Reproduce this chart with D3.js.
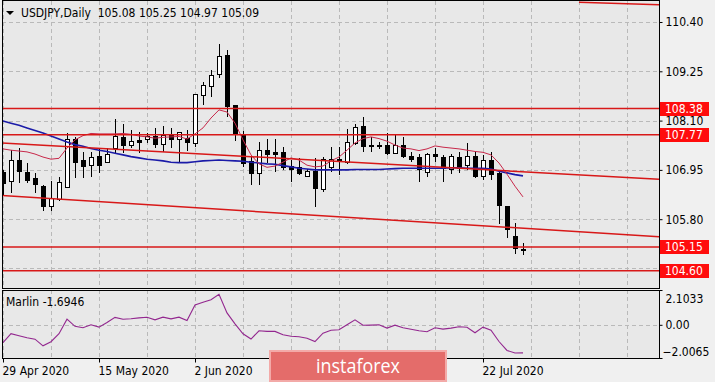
<!DOCTYPE html>
<html>
<head>
<meta charset="utf-8">
<script src="https://cdn.jsdelivr.net/npm/d3@7"></script>
<style>
  html, body { margin: 0; padding: 0; background: #f0f0f0; }
  svg { display: block; font-family: "DejaVu Sans Condensed", "DejaVu Sans", sans-serif; }
</style>
</head>
<body>
<svg id="chart" width="715" height="382"></svg>
<script>
// daily bars, 29 Apr 2020 .. 29 Jul 2020
const dates = [
  '2020-04-29','2020-04-30',
  '2020-05-01','2020-05-04','2020-05-05','2020-05-06','2020-05-07','2020-05-08',
  '2020-05-11','2020-05-12','2020-05-13','2020-05-14','2020-05-15',
  '2020-05-18','2020-05-19','2020-05-20','2020-05-21','2020-05-22',
  '2020-05-25','2020-05-26','2020-05-27','2020-05-28','2020-05-29',
  '2020-06-01','2020-06-02','2020-06-03','2020-06-04','2020-06-05',
  '2020-06-08','2020-06-09','2020-06-10','2020-06-11','2020-06-12',
  '2020-06-15','2020-06-16','2020-06-17','2020-06-18','2020-06-19',
  '2020-06-22','2020-06-23','2020-06-24','2020-06-25','2020-06-26',
  '2020-06-29','2020-06-30','2020-07-01','2020-07-02','2020-07-03',
  '2020-07-06','2020-07-07','2020-07-08','2020-07-09','2020-07-10',
  '2020-07-13','2020-07-14','2020-07-15','2020-07-16','2020-07-17',
  '2020-07-20','2020-07-21','2020-07-22','2020-07-23','2020-07-24',
  '2020-07-27','2020-07-28','2020-07-29'
];

const open = [
  106.88,106.67,107.18,106.88,106.75,106.57,106.09,106.26,106.54,107.66,
  107.16,107.05,107.27,107.12,107.45,107.71,107.51,107.63,107.65,107.72,
  107.55,107.76,107.67,107.68,107.57,108.68,108.89,109.18,109.61,108.46,
  107.77,107.14,106.87,107.40,107.35,107.35,107.02,107.01,106.79,106.91,
  106.50,107.01,107.20,107.12,107.57,107.96,107.52,107.50,107.51,107.34,
  107.53,107.27,107.23,106.89,107.31,107.24,106.95,107.24,107.05,107.26,
  106.79,107.16,106.87,106.09,105.39,105.08
];
const high = [
  106.95,107.41,107.45,107.10,106.87,106.60,106.70,106.78,107.80,107.72,
  107.37,107.37,107.45,107.45,108.13,108.02,107.88,107.84,107.80,107.93,
  107.98,107.92,107.84,107.88,108.72,109.01,109.28,109.88,109.75,108.46,
  107.85,107.26,107.59,107.66,107.66,107.48,107.18,107.22,106.96,107.22,
  107.26,107.48,107.49,107.90,108.02,108.19,107.72,107.61,107.80,107.78,
  107.72,107.37,107.31,107.34,107.45,107.30,107.31,107.36,107.57,107.36,
  107.30,107.36,106.90,106.09,105.70,105.25
];
const low = [
  106.36,106.42,106.64,106.64,106.42,106.00,106.00,106.23,106.54,106.75,
  106.75,106.79,106.87,107.10,107.34,107.35,107.45,107.34,107.57,107.45,
  107.37,107.45,107.10,107.39,107.49,108.46,108.66,109.09,108.19,107.62,
  107.02,106.60,106.60,107.10,106.91,106.95,106.67,106.83,106.79,106.09,
  106.44,106.91,106.83,107.09,107.53,107.37,107.37,107.43,107.30,107.31,
  107.22,107.14,106.66,106.79,107.14,106.67,106.85,106.87,106.95,106.75,
  106.71,106.71,105.68,105.35,104.98,104.97
];
const close = [
  106.64,107.18,106.91,106.71,106.60,106.09,106.29,106.65,107.65,107.12,
  107.02,107.24,107.06,107.32,107.72,107.53,107.61,107.60,107.72,107.55,
  107.76,107.67,107.82,107.59,108.70,108.93,109.16,109.59,108.42,107.78,
  107.10,106.87,107.41,107.32,107.30,107.01,106.96,106.87,106.92,106.52,
  107.20,107.20,107.18,107.59,107.94,107.49,107.53,107.51,107.34,107.51,
  107.26,107.20,106.95,107.31,107.26,106.99,107.26,106.99,107.26,106.79,
  107.16,106.85,106.12,105.57,105.12,105.09
];

// fast (crimson) and slow (blue) moving averages
const maFast = [
  107.44,107.41,107.39,107.37,107.32,107.25,107.20,107.22,107.46,107.65,
  107.75,107.80,107.79,107.79,107.79,107.80,107.78,107.74,107.72,107.69,
  107.71,107.72,107.73,107.67,107.79,107.93,108.16,108.35,108.30,108.04,
  107.65,107.30,107.09,107.01,107.04,107.13,107.23,107.18,107.06,107.02,
  107.04,107.16,107.25,107.41,107.58,107.68,107.72,107.68,107.62,107.53,
  107.46,107.44,107.40,107.44,107.51,107.48,107.46,107.44,107.41,107.38,
  107.36,107.30,107.11,106.85,106.57,106.32
];
const maSlow = [
  108.09,108.04,107.99,107.93,107.87,107.81,107.74,107.67,107.60,107.54,
  107.50,107.45,107.41,107.38,107.34,107.30,107.26,107.23,107.20,107.18,
  107.16,107.13,107.12,107.12,107.14,107.16,107.17,107.18,107.17,107.16,
  107.15,107.13,107.11,107.09,107.08,107.05,107.02,106.99,106.97,106.95,
  106.95,106.95,106.95,106.95,106.96,106.96,106.96,106.96,106.97,106.98,
  106.99,106.99,106.99,106.99,106.99,106.99,107.00,107.00,106.99,106.99,
  106.99,106.97,106.92,106.88,106.84,106.81
];

// Marlin oscillator (sub window)
const marlin = [
  -1.07,-0.54,-0.66,-0.78,-0.87,-1.27,-1.02,-0.54,0.34,-0.09,
  -0.18,0.00,-0.14,0.14,0.45,0.34,0.37,0.42,0.46,0.30,
  0.46,0.36,0.46,0.26,1.20,1.36,1.51,1.84,0.72,0.06,
  -0.54,-0.86,-0.36,-0.40,-0.40,-0.60,-0.69,-0.72,-0.81,-1.01,
  -0.51,-0.33,-0.30,0.00,0.30,-0.03,-0.02,0.00,-0.20,-0.02,
  -0.18,-0.27,-0.36,-0.42,-0.18,-0.26,-0.20,-0.12,-0.15,-0.48,
  -0.14,-0.33,-1.01,-1.55,-1.70,-1.6946
];

const priceTicks = [110.40, 109.25, 108.10, 106.95, 105.80, 104.65];
const priceLabels = [110.40, 109.25, 108.10, 106.95, 105.80];
const levels = [108.38, 107.77, 105.15, 104.60];
const marlinTicks = [2.1033, 0, -2.0065];
// labelled dates (the others sit under the watermark)
const dateTicks = [0, 12, 24, 60];
// trend lines as [bar index, price] end points
const channelLines = [
  [[-0.125, 107.58], [82, 106.73]],
  [[-0.125, 106.35], [82, 105.39]],
  [[72, 110.86], [82, 110.80]]
];
const title = 'USDJPY,Daily  105.08 105.25 104.97 105.09';
const subTitle = 'Marlin -1.6946';

const svg = d3.select('#chart');
const L = 2, R = 659, T = 1, B = 288, ST = 290, SB = 358;

const x = d3.scaleLinear().domain([0, 65]).range([3, 523]);
const y = d3.scaleLinear().domain([104.195, 110.89]).range([B, T]);
const ym = d3.scaleLinear().domain([-2.0065, 2.1033]).range([SB, ST]);

const parse = d3.timeParse('%Y-%m-%d');
const fmt = d3.timeFormat('%-d %b %Y');

// panel backgrounds
svg.append('rect').attr('x', L).attr('y', T).attr('width', R - L).attr('height', B - T).attr('fill', '#e8e8e8');
svg.append('rect').attr('x', L).attr('y', ST).attr('width', R - L).attr('height', SB - ST).attr('fill', '#e8e8e8');

const defs = svg.append('defs');
defs.append('clipPath').attr('id', 'clipMain')
  .append('rect').attr('x', L).attr('y', T).attr('width', R - L).attr('height', B - T);
defs.append('clipPath').attr('id', 'clipSub')
  .append('rect').attr('x', L).attr('y', ST).attr('width', R - L).attr('height', SB - ST);

const main = svg.append('g').attr('clip-path', 'url(#clipMain)');
const sub = svg.append('g').attr('clip-path', 'url(#clipSub)');

// grid
const gridIdx = d3.range(0, 82, 6);
[main, sub].forEach((g, k) => {
  g.selectAll('.vgrid').data(gridIdx).enter().append('line')
    .attr('x1', d => Math.round(x(d)) + 0.5).attr('x2', d => Math.round(x(d)) + 0.5)
    .attr('y1', k ? ST : T).attr('y2', k ? SB : B)
    .attr('stroke', '#b9b9b9').attr('stroke-dasharray', '4,3');
});
main.selectAll('.hgrid').data(priceTicks).enter().append('line')
  .attr('x1', L).attr('x2', R)
  .attr('y1', d => Math.round(y(d)) + 0.5).attr('y2', d => Math.round(y(d)) + 0.5)
  .attr('stroke', '#b9b9b9').attr('stroke-dasharray', '4,3');
sub.append('line')
  .attr('x1', L).attr('x2', R)
  .attr('y1', Math.round(ym(0)) + 0.5).attr('y2', Math.round(ym(0)) + 0.5)
  .attr('stroke', '#b9b9b9').attr('stroke-dasharray', '4,3');

// candles
const bars = d3.range(dates.length);
const cg = main.append('g').attr('shape-rendering', 'crispEdges');
cg.selectAll('.wick').data(bars).enter().append('line')
  .attr('x1', i => x(i) + 0.5).attr('x2', i => x(i) + 0.5)
  .attr('y1', i => y(high[i])).attr('y2', i => y(low[i]))
  .attr('stroke', '#000');
cg.selectAll('.body').data(bars).enter().append('rect')
  .attr('x', i => x(i) - 1.5)
  .attr('y', i => y(Math.max(open[i], close[i])))
  .attr('width', 4)
  .attr('height', i => Math.max(1, Math.abs(y(open[i]) - y(close[i]))))
  .attr('fill', i => close[i] >= open[i] ? '#fff' : '#000')
  .attr('stroke', '#000');

// moving averages
const line = d3.line().x((d, i) => x(i)).y(d => y(d));
main.append('path').datum(maSlow).attr('d', line)
  .attr('fill', 'none').attr('stroke', '#1b1ba8').attr('stroke-width', 1.6);
main.append('path').datum(maFast).attr('d', line)
  .attr('fill', 'none').attr('stroke', '#c8284a').attr('stroke-width', 1);

// levels and trend lines
main.selectAll('.level').data(levels).enter().append('line')
  .attr('x1', L).attr('x2', R)
  .attr('y1', d => y(d)).attr('y2', d => y(d))
  .attr('stroke', '#d81818').attr('stroke-width', 1.5);
main.selectAll('.channel').data(channelLines).enter().append('line')
  .attr('x1', d => x(d[0][0])).attr('y1', d => y(d[0][1]))
  .attr('x2', d => x(d[1][0])).attr('y2', d => y(d[1][1]))
  .attr('stroke', '#d81818').attr('stroke-width', 1.5);

// marlin
sub.append('path').datum(marlin)
  .attr('d', d3.line().x((d, i) => x(i)).y(d => ym(d)))
  .attr('fill', 'none').attr('stroke', '#93278f').attr('stroke-width', 1.1);

// frames
svg.append('rect').attr('x', L + 0.5).attr('y', T - 0.5).attr('width', R - L).attr('height', B - T + 1)
  .attr('fill', 'none').attr('stroke', '#000');
svg.append('rect').attr('x', L + 0.5).attr('y', ST + 0.5).attr('width', R - L).attr('height', SB - ST)
  .attr('fill', 'none').attr('stroke', '#000');

// price axis
const styleAxis = g => {
  g.select('.domain').remove();
  g.selectAll('.tick line').attr('stroke', '#000');
  g.selectAll('.tick text').attr('fill', '#000').style('font-size', '12px')
    .style('font-family', '"DejaVu Sans Condensed", "DejaVu Sans", sans-serif');
};
svg.append('g').attr('transform', `translate(${R + 0.5},0)`)
  .call(d3.axisRight(y).tickValues(priceLabels).tickFormat(d3.format('.2f')).tickSize(3).tickPadding(3))
  .call(styleAxis);

const mg = svg.append('g').attr('transform', `translate(${R + 0.5},0)`)
  .call(d3.axisRight(ym).tickValues(marlinTicks)
    .tickFormat(d => d === 0 ? '0.00' : d3.format('.4f')(d)).tickSize(3).tickPadding(3))
  .call(styleAxis);
mg.selectAll('.tick text')
  .attr('dy', d => d > 1 ? '1.05em' : d < -1 ? '-0.25em' : '0.32em')
  .attr('x', d => d < 0 ? 3 : 6);

// level labels
const lb = svg.append('g').selectAll('g').data(levels).enter().append('g')
  .attr('transform', d => `translate(${R + 1},${Math.round(y(d))})`);
lb.append('rect').attr('x', 0).attr('y', -7).attr('width', 49).attr('height', 14).attr('fill', '#ff0d0d');
lb.append('text').attr('x', 5).attr('dy', '0.36em').attr('fill', '#fff')
  .style('font-size', '12px').text(d => d3.format('.2f')(d));

// time axis
svg.append('g').attr('transform', `translate(0,${SB + 0.5})`)
  .call(d3.axisBottom(x).tickValues(dateTicks)
    .tickFormat(i => fmt(parse(dates[i]))).tickSize(4).tickPadding(4))
  .call(styleAxis)
  .call(g => g.selectAll('.tick text').attr('text-anchor', 'start').attr('x', -1));

// titles
svg.append('path').attr('d', 'M6,11 L14,11 L10,15 Z').attr('fill', '#000');
svg.append('text').attr('x', 21).attr('y', 17).style('font-size', '12px')
  .style('white-space', 'pre').attr('fill', '#000').text(title);
svg.append('text').attr('x', 6).attr('y', 306).style('font-size', '12px')
  .attr('fill', '#000').text(subTitle);

// watermark
const wm = svg.append('g');
wm.append('rect').attr('x', 270).attr('y', 351).attr('width', 176).attr('height', 30)
  .attr('fill', '#e46c6a').attr('stroke', '#f3aaa8').attr('stroke-width', 2);
wm.append('text').attr('x', 358).attr('y', 373).attr('text-anchor', 'middle')
  .attr('fill', '#fff').style('font-family', '"Open Sans", sans-serif').style('font-size', '20px')
  .attr('textLength', 84).attr('lengthAdjust', 'spacingAndGlyphs')
  .text('instaforex');
</script>
</body>
</html>
